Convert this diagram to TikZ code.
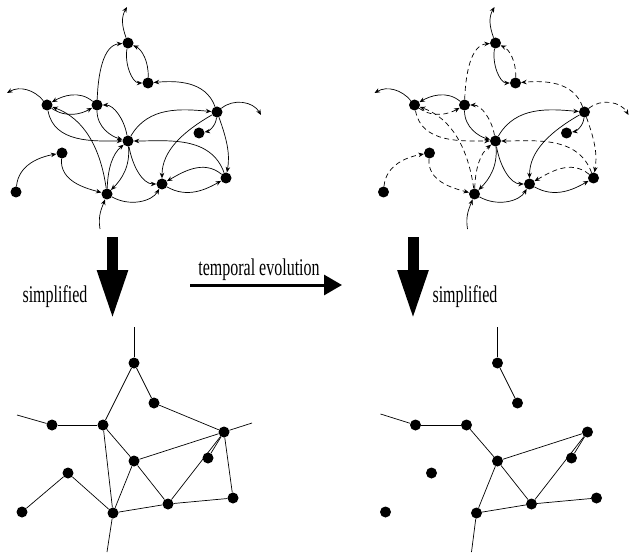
\documentclass[tikz,border=0pt]{standalone}
\usepackage{fontspec}
\setmainfont{Liberation Serif}
\usetikzlibrary{arrows.meta}
\tikzset{
    dot/.style={circle,fill,inner sep=0pt,minimum size=11pt},
    link/.style={line width=0.7pt},
    kept/.style={link,-{Stealth[length=5.5pt,width=4.5pt]}},
    lost/.style={kept},
    bigarrow/.style={line width=11pt,-{Triangle[length=50pt,width=28pt]}},
    txt/.style={font=\fontsize{16}{19}\selectfont,inner sep=0pt}
}
\newcommand{\tall}[1]{\scalebox{1}[1.5]{#1}}
\newcommand{\topdots}{128/43/a, 148/83/b, 47/105/c, 97/105/d, 217/112/e, 199/133/f, 128/141/g, 62/153/h, 16/192/i, 107/194/j, 162/184/k, 226/178/l}
\newcommand{\botdots}{128/43/a, 148/83/b, 46/105/c, 97/105/d, 218/112/e, 202/138/f, 128/141/g, 62/153/h, 16/192/i, 107/193/j, 162/184/k, 227/178/l}
\newcommand{\flowedges}{
    \draw[kept] (a) to[out=110,in=-120] (aup);
    \draw[lost] (d) to[out=88,in=185] (a);
    \draw[kept] (a) to[out=-100,in=180] (b);
    \draw[lost] (b) to[out=88,in=-25] (a);
    \draw[lost] (e) to[out=110,in=5] (b);
    \draw[kept] (c) to[out=130,in=30] (cup);
    \draw[kept] (d) to[out=140,in=30] (c);
    \draw[lost] (c) to[out=-35,in=-150] (d);
    \draw[lost] (j) to[out=98,in=-20] (c);
    \draw[lost] (c) to[out=-80,in=180] (g);
    \draw[lost] (g) to[out=100,in=0] (d);
    \draw[kept] (d) to[out=-90,in=165] (g);
    \draw[kept] (g) to[out=60,in=175] (e);
    \draw[lost] (l) to[out=110,in=0] (g);
    \draw[lost] (e) to[out=40,in=120] (eup);
    \draw[kept] (e) to[out=-95,in=10] (f);
    \draw[lost] (e) to[out=-70,in=80] (l);
    \draw[kept] (e) to[out=210,in=90] (k);
    \draw[lost] (l) to[out=140,in=30] (k);
    \draw[kept] (k) to[out=-30,in=-150] (l);
    \draw[kept] (g) to[out=-80,in=180] (k);
    \draw[kept] (g) to[out=-85,in=45] (j);
    \draw[lost] (j) to[out=88,in=-140] (g);
    \draw[kept] (j) to[out=-30,in=-120] (k);
    \draw[kept] (jdn) to[out=100,in=-110] (j);
    \draw[lost] (h) to[out=-95,in=165] (j);
    \draw[lost] (i) to[out=85,in=190] (h);
}
\begin{document}
\begin{tikzpicture}[x=1pt,y=1pt]
\useasboundingbox (0,0) rectangle (629,-556);
\begin{scope}[name prefix=tl-]
    \foreach \x/\y/\p in \topdots {\node[dot] (\p) at (\x,-\y) {};}
    \coordinate (aup) at (127,-7);
    \coordinate (cup) at (7,-93);
    \coordinate (eup) at (261,-115);
    \coordinate (jdn) at (100,-229);
    \flowedges
\end{scope}
\begin{scope}[shift={(367.5,0)},name prefix=tr-,lost/.style={kept,dash pattern=on 5pt off 3.5pt}]
    \foreach \x/\y/\p in \topdots {\node[dot] (\p) at (\x,-\y) {};}
    \coordinate (aup) at (127,-7);
    \coordinate (cup) at (7,-93);
    \coordinate (eup) at (261,-115);
    \coordinate (jdn) at (100,-229);
    \flowedges
\end{scope}
\begin{scope}[shift={(6,-320)},name prefix=bl-]
    \foreach \x/\y/\p in \botdots {\node[dot] (\p) at (\x,-\y) {};}
    \coordinate (aup) at (128,-7);
    \coordinate (cup) at (11,-95);
    \coordinate (eup) at (246,-103);
    \coordinate (jdn) at (101,-232);
    \foreach \u/\v in {aup/a, a/b, a/d, b/e, cup/c, c/d, d/g, d/j, e/g, e/eup, e/f, e/k, e/l, g/j, g/k, h/i, h/j, j/k, k/l, j/jdn}
        \draw[link] (\u) -- (\v);
\end{scope}
\begin{scope}[shift={(369.5,-320)},name prefix=br-]
    \foreach \x/\y/\p in \botdots {\node[dot] (\p) at (\x,-\y) {};}
    \coordinate (aup) at (128,-7);
    \coordinate (cup) at (11,-94);
    \coordinate (jdn) at (102,-232);
    \foreach \u/\v in {aup/a, a/b, cup/c, c/d, d/g, g/e, g/j, g/k, e/f, e/k, k/l, j/k, j/jdn}
        \draw[link] (\u) -- (\v);
\end{scope}
\coordinate (lstart) at (112.5,-237);
\coordinate (lend) at (112.5,-320);
\coordinate (rstart) at (413,-237);
\coordinate (rend) at (413,-320);
\coordinate (estart) at (190,-285);
\coordinate (eend) at (342,-285);
\draw[bigarrow] (lstart) -- (lend);
\draw[bigarrow] (rstart) -- (rend);
\draw[line width=3pt,-{Triangle[length=18pt,width=20pt]}] (estart) -- (eend);
\node[txt,anchor=base] (evol) at (259,-275) {\tall{temporal evolution}};
\node[txt,anchor=base] (simpl) at (55,-302) {\tall{simplified}};
\node[txt,anchor=base] (simpr) at (465,-302) {\tall{simplified}};
\end{tikzpicture}
\end{document}
